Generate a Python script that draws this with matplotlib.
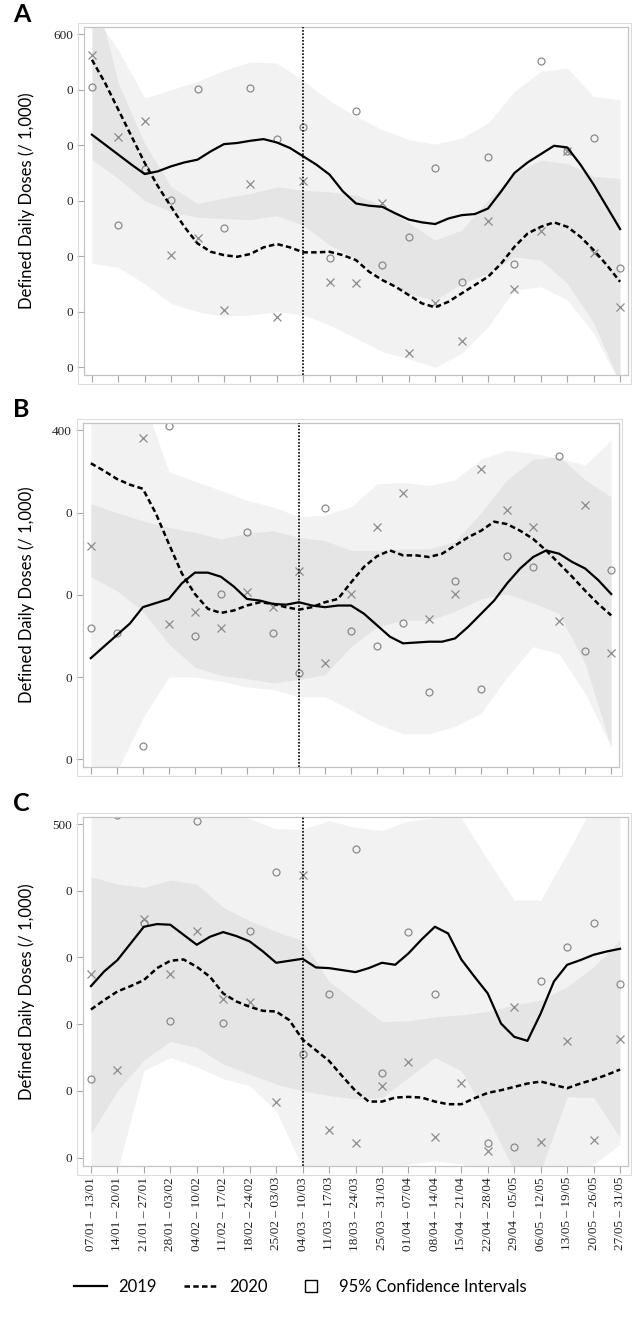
import numpy as np
import matplotlib
matplotlib.use("Agg")
import matplotlib.pyplot as plt
from matplotlib.lines import Line2D
from matplotlib.patches import Rectangle

# week labels (x axis)
weeks = ["07/01 – 13/01", "14/01 – 20/01", "21/01 – 27/01", "28/01 – 03/02",
         "04/02 – 10/02", "11/02 – 17/02", "18/02 – 24/02", "25/02 – 03/03",
         "04/03 – 10/03", "11/03 – 17/03", "18/03 – 24/03", "25/03 – 31/03",
         "01/04 – 07/04", "08/04 – 14/04", "15/04 – 21/04", "22/04 – 28/04",
         "29/04 – 05/05", "06/05 – 12/05", "13/05 – 19/05", "20/05 – 26/05",
         "27/05 – 31/05"]
lockdown_week = 8

# smoothed curves, read every half week
a_line_2019 = [419, 401, 383, 365, 348, 353, 362, 369, 374, 389, 402, 404, 408, 411, 405, 395,
               380, 365, 347, 317, 295, 291, 289, 277, 266, 261, 258, 268, 274, 276, 286, 317,
               350, 369, 384, 399, 396, 365, 329, 289, 249]
a_line_2020 = [554, 512, 464, 416, 368, 326, 289, 253, 223, 208, 202, 199, 204, 216, 222, 216,
               207, 207, 208, 202, 193, 172, 157, 145, 130, 115, 108, 118, 133, 148, 163, 187,
               217, 241, 253, 261, 253, 235, 211, 184, 154]
b_line_2019 = [123, 137, 151, 165, 185, 190, 195, 214, 227, 227, 222, 210, 195, 193, 189, 188,
               191, 187, 185, 187, 187, 177, 163, 149, 141, 142, 143, 143, 147, 161, 177, 193,
               214, 232, 246, 254, 250, 240, 232, 218, 201]
b_line_2020 = [360, 351, 341, 334, 329, 299, 262, 226, 201, 183, 178, 181, 187, 191, 189, 185,
               182, 185, 191, 195, 215, 234, 247, 254, 248, 248, 246, 250, 260, 270, 278, 289,
               286, 278, 268, 254, 238, 222, 205, 189, 175]
c_line_2019 = [257, 279, 296, 321, 346, 350, 349, 334, 319, 331, 338, 332, 324, 309, 292, 295,
               298, 285, 284, 281, 278, 284, 292, 289, 306, 327, 346, 336, 297, 271, 246, 201,
               181, 175, 216, 264, 289, 296, 304, 309, 313]
c_line_2020 = [222, 236, 249, 257, 266, 284, 295, 297, 286, 271, 246, 234, 226, 220, 219, 206,
               177, 161, 145, 122, 100, 84, 84, 90, 91, 90, 84, 80, 80, 89, 97, 101,
               106, 111, 114, 109, 104, 111, 117, 124, 132]

# 95% confidence intervals, weekly
a_ci19_hi = [640, 572, 485, 500, 515, 535, 550, 548, 517, 480, 452, 428, 410, 402, 413, 440, 497, 533, 539, 488, 482]
a_ci19_lo = [374, 340, 300, 280, 270, 268, 266, 273, 256, 220, 196, 160, 132, 121, 151, 169, 199, 193, 151, 80, -30]
a_ci20_hi = [700, 512, 403, 325, 295, 305, 313, 325, 319, 316, 310, 292, 260, 229, 247, 301, 350, 373, 367, 344, 340]
a_ci20_lo = [187, 180, 150, 115, 100, 92, 94, 100, 94, 76, 52, 28, 15, 0, 25, 73, 139, 145, 121, 61, -30]

b_ci19_hi = [311, 300, 290, 282, 276, 268, 275, 278, 270, 266, 254, 254, 256, 256, 265, 300, 340, 365, 368, 340, 319]
b_ci19_lo = [-40, -15, 50, 100, 100, 95, 88, 85, 76, 76, 60, 43, 31, 31, 40, 56, 100, 137, 128, 80, 15]
b_ci20_hi = [460, 460, 440, 350, 338, 327, 315, 307, 295, 297, 307, 335, 337, 333, 340, 365, 376, 372, 366, 358, 388]
b_ci20_lo = [222, 205, 180, 140, 112, 102, 98, 93, 97, 103, 137, 161, 169, 169, 180, 195, 201, 190, 177, 116, 15]

c_ci19_hi = [560, 560, 560, 540, 530, 515, 508, 493, 492, 505, 495, 490, 505, 509, 509, 446, 386, 386, 456, 530, 540]
c_ci19_lo = [36, 100, 146, 174, 165, 140, 125, 110, 100, 93, 88, 90, 120, 150, 130, 60, -20, -30, -20, -10, 20]
c_ci20_hi = [421, 410, 405, 416, 410, 375, 355, 339, 325, 264, 234, 204, 205, 211, 214, 219, 229, 236, 256, 286, 326]
c_ci20_lo = [-40, -20, 130, 150, 136, 118, 108, 70, -15, -20, -20, -20, -10, -5, -10, -20, -30, -20, 91, 90, 30]

# weekly observed values (circle = 2019, cross = 2020)
nan = np.nan
a_obs_2019 = [504, 256, 358, 301, 501, 250, 503, 411, 432, 196, 462, 184, 234, 359, 153, 378, 186, 551, 390, 413, 178]
a_obs_2020 = [563, 414, 444, 202, 233, 103, 330, 91, 335, 154, 152, 295, 25, 115, 48, 264, 141, 246, 390, 205, 109]
b_obs_2019 = [160, 153, 16, 405, 150, 201, 276, 153, 105, 306, 156, 138, 166, 82, 217, 85, 247, 234, 369, 132, 230]
b_obs_2020 = [259, nan, 391, 164, 179, 160, 203, 185, 229, 117, 201, 283, 324, 171, 201, 353, 303, 282, 168, 309, 129]
c_obs_2019 = [118, 514, 351, 205, 504, 202, 340, 428, 155, 245, 463, 127, 338, 245, nan, 22, 16, 265, 316, 351, 260]
c_obs_2020 = [275, 132, 357, 275, 340, 237, 233, 84, 423, 41, 22, 108, 144, 31, 112, 10, 225, 24, 175, 26, 178]

W, H = 634, 1322
fig = plt.figure(figsize=(W / 100, H / 100), dpi=100)

x_week = np.arange(len(weeks))
x_half = np.arange(len(a_line_2019)) / 2
dash = (0, (2.2, 1.3))

panels = [
    ("A", (84, 27, 628, 375), (-14, 613), 600,
     a_line_2019, a_line_2020, a_ci19_lo, a_ci19_hi, a_ci20_lo, a_ci20_hi, a_obs_2019, a_obs_2020),
    ("B", (83, 423, 619, 767), (-9.4, 409), 400,
     b_line_2019, b_line_2020, b_ci19_lo, b_ci19_hi, b_ci20_lo, b_ci20_hi, b_obs_2019, b_obs_2020),
    ("C", (83, 817, 628, 1166), (-12.6, 510.5), 500,
     c_line_2019, c_line_2020, c_ci19_lo, c_ci19_hi, c_ci20_lo, c_ci20_hi, c_obs_2019, c_obs_2020),
]

for letter, (l, t, r, b), ylim, ymax, l19, l20, lo19, hi19, lo20, hi20, o19, o20 in panels:
    ax = fig.add_axes([l / W, 1 - b / H, (r - l) / W, (b - t) / H])
    ax.fill_between(x_week, lo19, hi19, color="black", alpha=0.05, lw=0, zorder=1)
    ax.fill_between(x_week, lo20, hi20, color="black", alpha=0.05, lw=0, zorder=1)
    ax.plot(x_week, o19, ls="none", marker="o", ms=5, mfc="none", mec="#8a8a8a", mew=0.9, zorder=2)
    ax.plot(x_week, o20, ls="none", marker="x", ms=5.5, mec="#8a8a8a", mew=0.9, zorder=2)
    ax.plot(x_half, l19, color="black", lw=1.6, zorder=3)
    ax.plot(x_half, l20, color="black", lw=1.8, ls=dash, zorder=3)
    ax.axvline(lockdown_week, color="black", lw=1.2, ls=(0, (1, 1)), zorder=4)

    ax.set_xlim(-0.3, 20.3)
    ax.set_ylim(*ylim)
    yt = np.arange(0, ymax + 1, 100)
    ax.set_yticks(yt)
    ax.set_yticklabels([str(ymax) if v == ymax else "0" for v in yt],
                       fontfamily="Liberation Serif", fontsize=9.5, color="#222222")
    ax.set_xticks(x_week)
    if letter == "C":
        ax.set_xticklabels(weeks, rotation=90, fontfamily="Liberation Serif",
                           fontsize=9.5, color="#222222")
    else:
        ax.set_xticklabels([])
    ax.tick_params(axis="both", direction="out", color="#a8a8a8", width=0.8, length=5, pad=3)
    for s in ax.spines.values():
        s.set_color("#c4c4c4")
        s.set_linewidth(0.9)

    # outer light frame around the plot
    fig.patches.append(Rectangle(((l - 6) / W, 1 - (b + 9) / H), (r - l + 9) / W, (b - t + 13) / H,
                                 transform=fig.transFigure, fill=False, ec="#dcdcdc", lw=0.8))

    fig.text(27 / W, 1 - (t + b) / 2 / H, "Defined Daily Doses (/ 1,000)", rotation=90,
             ha="center", va="center", fontfamily="Lato", fontsize=12)
    fig.text(13 / W, 1 - (t - 13) / H, letter, ha="left", va="center",
             fontfamily="Lato", fontweight="bold", fontsize=18)

handles = [Line2D([], [], color="black", lw=1.6),
           Line2D([], [], color="black", lw=1.8, ls=dash),
           Line2D([], [], ls="none", marker="s", ms=9, mfc="white", mec="black", mew=1.0)]
fig.legend(handles, ["2019", "2020", "95% Confidence Intervals"], loc="center",
           bbox_to_anchor=(300 / W, 1 - 1287 / H), ncol=3, frameon=False,
           prop={"family": "Lato", "size": 12}, handlelength=2.0, handletextpad=0.7,
           columnspacing=1.6)

fig.savefig("out.png", dpi=100)
